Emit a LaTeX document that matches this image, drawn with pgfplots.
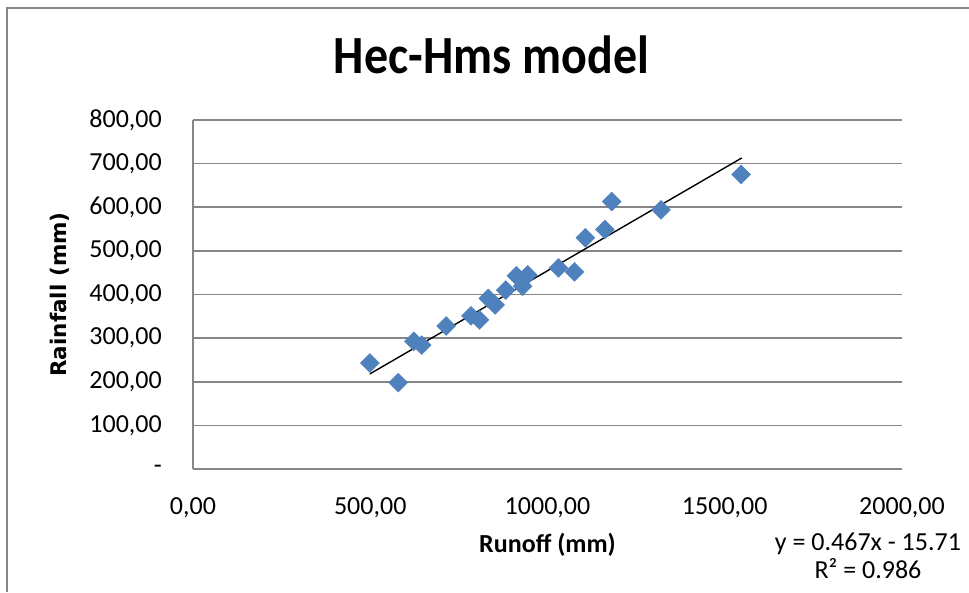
\documentclass[border=0pt]{standalone}
\usepackage{pgfplots}
\pgfplotsset{compat=1.18}
\usepackage{fontspec}
\setmainfont{Carlito}
\newfontfamily\ylabfont{DejaVu Sans}
\definecolor{mkblue}{RGB}{79,129,189}
\definecolor{gridgray}{RGB}{134,134,134}
\begin{document}
\begin{tikzpicture}[x=1pt,y=1pt]
\useasboundingbox (0,0) rectangle (969,592);
\draw[gridgray, line width=2pt] (7,0) -- (7,584) -- (969,584);
\begin{axis}[
  at={(193pt,123pt)}, anchor=south west,
  scale only axis, width=709pt, height=349pt,
  xmin=0, xmax=2000, ymin=0, ymax=800,
  axis x line=bottom, axis y line=left,
  axis line style={gridgray, line width=1.6pt, -},
  xtick={0,500,1000,1500,2000},
  xticklabels={{0,00},{500,00},{1000,00},{1500,00},{2000,00}},
  ytick={0,100,...,800},
  yticklabels={-,{100,00},{200,00},{300,00},{400,00},{500,00},{600,00},{700,00},{800,00}},
  major tick length=0pt,
  ymajorgrids, grid style={gridgray, line width=1.6pt},
  tick label style={font=\fontsize{26}{28}\selectfont, inner sep=0pt},
  yticklabel style={anchor=east, xshift=-31pt},
  xticklabel style={anchor=north, yshift=-28pt},
  title={\scalebox{1}[1.12]{\fontsize{48}{52}\selectfont\bfseries Hec-Hms model}},
  title style={at={(axis description cs:0.421,1.169)}, anchor=center, inner sep=0pt},
  xlabel={Runoff (mm)},
  xlabel style={font=\fontsize{26}{28}\selectfont\bfseries, at={(axis description cs:0.5,-0.218)}, anchor=center, inner sep=0pt},
  ylabel={Rainfall (mm)},
  ylabel style={font=\ylabfont\fontsize{21.5}{24}\selectfont\bfseries, at={(axis description cs:-0.188,0.5)}, anchor=center, rotate=0, inner sep=0pt},
  clip=false,
]
\addplot[only marks, mark=square*, mark size=6.7pt, mark options={rotate=45, fill=mkblue, draw=mkblue}]
coordinates {
(499,243) (579,198) (623,293) (645,284) (714,328) (784,351) (808,342)
(833,391) (852,376) (882,410) (912,443) (930,419) (944,445) (1031,461)
(1076,452) (1107,530) (1162,549) (1181,613) (1320,594) (1546,675)
};
\addplot[black, line width=1.4pt] coordinates {(499,218) (1548,713)};
\node[align=center, font=\fontsize{26}{28}\selectfont, inner sep=0pt, anchor=center]
  at (axis description cs:0.952,-0.249) {y = 0.467x - 15.71\\R² = 0.986};
\end{axis}
\end{tikzpicture}
\end{document}
